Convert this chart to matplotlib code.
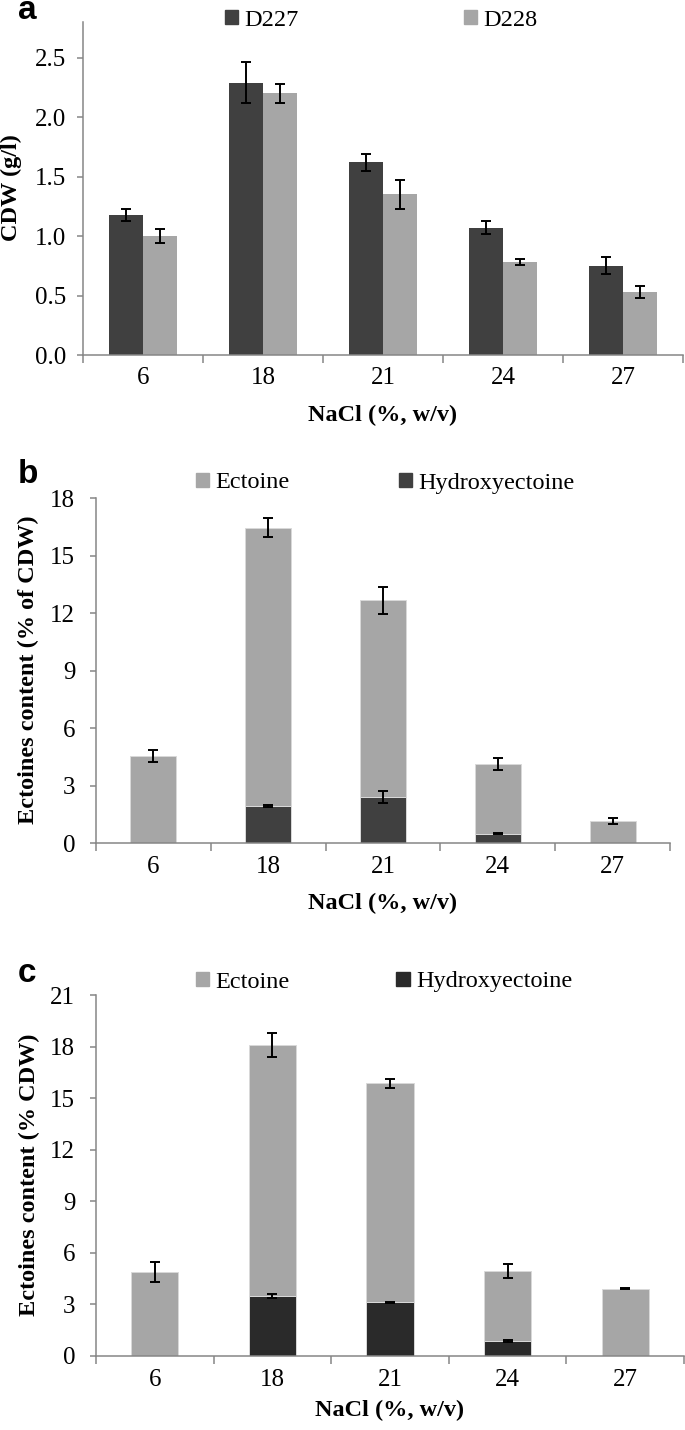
import matplotlib
matplotlib.use("Agg")
import matplotlib.pyplot as plt
import numpy as np
from matplotlib.patches import Patch
from matplotlib.ticker import FixedLocator, NullFormatter, FixedFormatter

# ---------------- data ----------------
categories = ['6', '18', '21', '24', '27']

a_d227 = [1.18, 2.29, 1.62, 1.07, 0.75]
a_d227_err = [0.05, 0.17, 0.07, 0.055, 0.07]
a_d228 = [1.00, 2.20, 1.35, 0.78, 0.53]
a_d228_err = [0.06, 0.08, 0.12, 0.025, 0.05]

b_hydroxy = [0.0, 1.93, 2.40, 0.49, 0.0]
b_hydroxy_err = [0.0, 0.04, 0.30, 0.04, 0.0]
b_ectoine = [4.55, 14.53, 10.27, 3.62, 1.13]
b_total_err = [0.32, 0.48, 0.70, 0.30, 0.15]

c_hydroxy = [0.0, 3.49, 3.12, 0.87, 0.0]
c_hydroxy_err = [0.0, 0.13, 0.04, 0.04, 0.0]
c_ectoine = [4.89, 14.60, 12.74, 4.06, 3.92]
c_total_err = [0.58, 0.70, 0.25, 0.42, 0.05]

# ---------------- style ----------------
W, H = 685, 1430
DPI = 100
SERIF = ['Liberation Serif', 'DejaVu Serif']
SANS = ['Liberation Sans', 'DejaVu Sans']
plt.rcParams['font.family'] = SERIF
TICK_FS = 18
LAB_FS = 17.5
SPINE = '#868686'
DARK_A = '#404040'
DARK_B = '#404040'
DARK_C = '#2a2a2a'
LIGHT = '#a6a6a6'
EDGE = '#d9d9d9'

fig = plt.figure(figsize=(W / DPI, H / DPI), dpi=DPI)


def px_axes(left, right, top, bottom):
    return fig.add_axes([left / W, 1 - bottom / H, (right - left) / W, (bottom - top) / H])


def style_axes(ax, ylim, yticks, yfmt, ypad):
    x = np.arange(len(categories))
    ax.set_xlim(-0.5, len(categories) - 0.5)
    ax.set_ylim(*ylim)
    for s in ['top', 'right']:
        ax.spines[s].set_visible(False)
    for s in ['left', 'bottom']:
        ax.spines[s].set_color(SPINE)
        ax.spines[s].set_linewidth(1.1)
    ax.xaxis.set_major_locator(FixedLocator(np.arange(-0.5, len(categories), 1.0)))
    ax.xaxis.set_major_formatter(NullFormatter())
    ax.xaxis.set_minor_locator(FixedLocator(x))
    ax.xaxis.set_minor_formatter(FixedFormatter(categories))
    ax.tick_params(axis='x', which='major', direction='out', length=6, width=1.1, color=SPINE)
    ax.tick_params(axis='x', which='minor', length=0, pad=9, labelsize=TICK_FS)
    ax.set_yticks(yticks)
    ax.set_yticklabels([yfmt.format(v) for v in yticks])
    ax.tick_params(axis='y', direction='out', length=4, width=1.1, color=SPINE, pad=ypad,
                   labelsize=TICK_FS)
    ax.set_axisbelow(False)


ekw = dict(ecolor='black', elinewidth=1.4, capsize=3.3, capthick=1.4, fmt='none', zorder=5)
x = np.arange(len(categories))

# ---------------- panel a ----------------
axa = px_axes(83, 683, 22, 355)
bw = 0.285
axa.bar(x - bw / 2, a_d227, bw, color=DARK_A, label='D227', zorder=2)
axa.bar(x + bw / 2, a_d228, bw, color=LIGHT, label='D228', zorder=2)
axa.errorbar(x - bw / 2, a_d227, yerr=a_d227_err, **ekw)
axa.errorbar(x + bw / 2, a_d228, yerr=a_d228_err, **ekw)
style_axes(axa, (0, 2.8), [0, 0.5, 1.0, 1.5, 2.0, 2.5], '{:.1f}', 8)

# ---------------- panel b ----------------
axb = px_axes(96, 670, 498, 843)
bw2 = 0.40
b_total = np.array(b_hydroxy) + np.array(b_ectoine)
axb.bar(x, b_hydroxy, bw2, color=DARK_B, edgecolor=EDGE, linewidth=0.7, label='Hydroxyectoine', zorder=2)
axb.bar(x, b_ectoine, bw2, bottom=b_hydroxy, color=LIGHT, edgecolor=EDGE, linewidth=0.7,
        label='Ectoine', zorder=2)
hb = np.array(b_hydroxy) > 0
axb.errorbar(x[hb], np.array(b_hydroxy)[hb], yerr=np.array(b_hydroxy_err)[hb], **ekw)
axb.errorbar(x, b_total, yerr=b_total_err, **ekw)
style_axes(axb, (0, 18), list(range(0, 19, 3)), '{:d}', 11)

# ---------------- panel c ----------------
axc = px_axes(96, 684, 995, 1356)
c_total = np.array(c_hydroxy) + np.array(c_ectoine)
axc.bar(x, c_hydroxy, bw2, color=DARK_C, edgecolor=EDGE, linewidth=0.7, label='Hydroxyectoine', zorder=2)
axc.bar(x, c_ectoine, bw2, bottom=c_hydroxy, color=LIGHT, edgecolor=EDGE, linewidth=0.7,
        label='Ectoine', zorder=2)
hc = np.array(c_hydroxy) > 0
axc.errorbar(x[hc], np.array(c_hydroxy)[hc], yerr=np.array(c_hydroxy_err)[hc], **ekw)
axc.errorbar(x, c_total, yerr=c_total_err, **ekw)
style_axes(axc, (0, 21), list(range(0, 22, 3)), '{:d}', 11)

# ---------------- labels ----------------
def ftext(xp, yp, s, **kw):
    fig.text(xp / W, 1 - yp / H, s, **kw)

lab = dict(fontsize=LAB_FS, fontweight='bold', ha='center', va='center')
ftext(383, 415, 'NaCl (%, w/v)', **lab)
ftext(383, 903, 'NaCl (%, w/v)', **lab)
ftext(390, 1410, 'NaCl (%, w/v)', **lab)
ftext(11, 188, 'CDW (g/l)', rotation=90, **lab)
ftext(28, 670, 'Ectoines content (% of CDW)', rotation=90, **lab)
ftext(29, 1175, 'Ectoines content (% CDW)', rotation=90, **lab)

letter = dict(fontsize=24, fontweight='bold', ha='center', va='baseline', family=SANS)
# 'a' placed with its glyph top just below the figure edge (bbox kept inside)
fig.text(27 / W, 1 - 20 / H, 'a', fontsize=24, fontweight='bold', ha='center',
         va='bottom', family=SANS).set_y(1 - 26 / H)
ftext(28, 483, 'b', **letter)
ftext(27, 982, 'c', **letter)

# ---------------- legends ----------------
leg_kw = dict(ncol=2, frameon=False, handlelength=0.55, handleheight=0.55, handletextpad=0.25,
              fontsize=LAB_FS, loc='center', bbox_transform=fig.transFigure, borderaxespad=0,
              borderpad=0)
fig.legend([Patch(color=DARK_A), Patch(color=LIGHT)], ['D227', 'D228'],
           bbox_to_anchor=(381 / W, 1 - 20 / H), columnspacing=6.8, **leg_kw)
fig.legend([Patch(color=LIGHT), Patch(color=DARK_B)], ['Ectoine', 'Hydroxyectoine'],
           bbox_to_anchor=(385 / W, 1 - 483 / H), columnspacing=4.5, **leg_kw)
fig.legend([Patch(color=LIGHT), Patch(color=DARK_C)], ['Ectoine', 'Hydroxyectoine'],
           bbox_to_anchor=(384 / W, 1 - 982 / H), columnspacing=4.4, **leg_kw)

fig.savefig('out.png', dpi=DPI)
